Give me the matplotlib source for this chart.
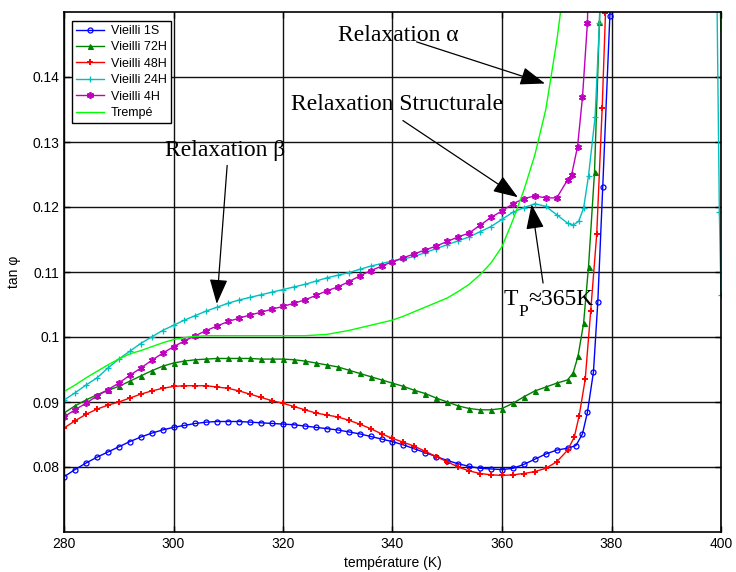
import matplotlib
matplotlib.use("Agg")
import matplotlib.pyplot as plt
import numpy as np

plt.rcParams['font.family'] = ['Liberation Sans', 'DejaVu Sans']

# ---------------- data ----------------
t_base = list(range(280, 373, 2))  # 280 ... 372 K

vieilli_1s_base = [0.0785, 0.0796, 0.0806, 0.0815, 0.0823, 0.0831, 0.0839, 0.0846, 0.0852, 0.0857,
                   0.0861, 0.0864, 0.0867, 0.0869, 0.0870, 0.0870, 0.0870, 0.0869, 0.0868, 0.0867,
                   0.0866, 0.0865, 0.0863, 0.0861, 0.0859, 0.0857, 0.0854, 0.0851, 0.0847, 0.0843,
                   0.0839, 0.0834, 0.0828, 0.0822, 0.0816, 0.0810, 0.0805, 0.0801, 0.0798, 0.0797,
                   0.0796, 0.0798, 0.0804, 0.0812, 0.0820, 0.0826, 0.0829]
vieilli_1s_tail_t = [373.5, 374.7, 375.6, 376.7, 377.5, 378.4, 379.7, 381.0]
vieilli_1s_tail = [0.0833, 0.0851, 0.0884, 0.0946, 0.1054, 0.1231, 0.1494, 0.1800]

vieilli_72h_base = [0.0883, 0.0894, 0.0903, 0.0911, 0.0918, 0.0924, 0.0932, 0.0940, 0.0948, 0.0955,
                    0.0960, 0.0963, 0.0965, 0.0966, 0.0967, 0.0967, 0.0967, 0.0967, 0.0966, 0.0966,
                    0.0966, 0.0965, 0.0963, 0.0960, 0.0957, 0.0954, 0.0949, 0.0944, 0.0939, 0.0934,
                    0.0929, 0.0924, 0.0918, 0.0913, 0.0906, 0.0900, 0.0894, 0.0890, 0.0888, 0.0888,
                    0.0890, 0.0898, 0.0908, 0.0917, 0.0923, 0.0929, 0.0934]
vieilli_72h_tail_t = [373.0, 373.9, 374.9, 375.8, 376.9, 377.8, 378.4]
vieilli_72h_tail = [0.0945, 0.0971, 0.1021, 0.1108, 0.1254, 0.1485, 0.1700]

vieilli_48h_base = [0.0860, 0.0871, 0.0881, 0.0889, 0.0895, 0.0900, 0.0906, 0.0912, 0.0917, 0.0921,
                    0.0924, 0.0925, 0.0925, 0.0925, 0.0923, 0.0921, 0.0917, 0.0912, 0.0907, 0.0902,
                    0.0898, 0.0893, 0.0888, 0.0883, 0.0880, 0.0877, 0.0872, 0.0866, 0.0859, 0.0851,
                    0.0844, 0.0838, 0.0832, 0.0824, 0.0816, 0.0808, 0.0800, 0.0794, 0.0790, 0.0788,
                    0.0787, 0.0788, 0.0790, 0.0793, 0.0798, 0.0808, 0.0826]
vieilli_48h_tail_t = [373.2, 374.1, 375.2, 376.2, 377.3, 378.3, 378.9, 379.6]
vieilli_48h_tail = [0.0846, 0.0879, 0.0935, 0.1040, 0.1158, 0.1353, 0.1498, 0.1700]

vieilli_24h_base = [0.0903, 0.0914, 0.0926, 0.0937, 0.0952, 0.0966, 0.0978, 0.0990, 0.1000, 0.1010,
                    0.1018, 0.1026, 0.1033, 0.1040, 0.1046, 0.1052, 0.1057, 0.1061, 0.1065, 0.1069,
                    0.1073, 0.1077, 0.1081, 0.1086, 0.1091, 0.1095, 0.1099, 0.1104, 0.1109, 0.1113,
                    0.1117, 0.1120, 0.1124, 0.1130, 0.1136, 0.1142, 0.1148, 0.1154, 0.1162, 0.1170,
                    0.1181, 0.1192, 0.1199, 0.1205, 0.1201, 0.1188, 0.1175]
vieilli_24h_tail_t = [373.0, 374.0, 374.9, 375.8, 377.0, 377.8, 378.5, 390.0, 399.0, 399.7, 400.0]
vieilli_24h_tail = [0.1172, 0.1178, 0.1198, 0.1248, 0.1338, 0.1483, 0.1700, 0.5000, 0.1720, 0.1193, 0.1065]

vieilli_4h_base = [0.0877, 0.0888, 0.0898, 0.0909, 0.0919, 0.0929, 0.0941, 0.0952, 0.0964, 0.0975,
                   0.0985, 0.0994, 0.1002, 0.1010, 0.1017, 0.1024, 0.1029, 0.1034, 0.1038, 0.1043,
                   0.1047, 0.1052, 0.1057, 0.1064, 0.1071, 0.1077, 0.1085, 0.1094, 0.1102, 0.1109,
                   0.1116, 0.1122, 0.1128, 0.1134, 0.1140, 0.1147, 0.1154, 0.1160, 0.1172, 0.1184,
                   0.1194, 0.1205, 0.1213, 0.1217, 0.1214, 0.1214, 0.1242]
vieilli_4h_tail_t = [372.7, 373.8, 374.7, 375.6, 376.2]
vieilli_4h_tail = [0.1249, 0.1293, 0.1369, 0.1483, 0.1700]

trempe_base = [0.0916, 0.0926, 0.0937, 0.0947, 0.0957, 0.0966, 0.0974, 0.0979, 0.0985, 0.0991,
               0.0996, 0.0999, 0.1001, 0.1002, 0.1002, 0.1002, 0.1002, 0.1002, 0.1002, 0.1002,
               0.1002, 0.1002, 0.1002, 0.1003, 0.1004, 0.1007, 0.1010, 0.1014, 0.1018, 0.1022,
               0.1026, 0.1032, 0.1039, 0.1046, 0.1053, 0.1060, 0.1070, 0.1081, 0.1096, 0.1114,
               0.1139, 0.1180, 0.1226, 0.1280, 0.1350, 0.1455]
trempe_tail_t = [371.0, 385.0, 400.0]
trempe_tail = [0.1520, 0.5000, 0.1470]

x_ticks = [280, 300, 320, 340, 360, 380, 400]
y_ticks = [0.08, 0.09, 0.10, 0.11, 0.12, 0.13, 0.14]
y_tick_labels = ['0.08', '0.09', '0.1', '0.11', '0.12', '0.13', '0.14']

# ---------------- figure ----------------
fig = plt.figure(figsize=(7.36, 5.72), dpi=100)
ax = fig.add_axes([64/736, 40/572, 657/736, 520/572])

series = [
    ("Vieilli 1S", t_base + vieilli_1s_tail_t, vieilli_1s_base + vieilli_1s_tail,
     dict(color='#0000FF', marker='o', ms=3.6, mfc='none', mew=0.9)),
    ("Vieilli 72H", t_base + vieilli_72h_tail_t, vieilli_72h_base + vieilli_72h_tail,
     dict(color='#008000', marker='^', ms=3.6, mew=0.8)),
    ("Vieilli 48H", t_base + vieilli_48h_tail_t, vieilli_48h_base + vieilli_48h_tail,
     dict(color='#FF0000', marker='+', ms=5, mew=1.4)),
    ("Vieilli 24H", t_base + vieilli_24h_tail_t, vieilli_24h_base + vieilli_24h_tail,
     dict(color='#00BFBF', marker='+', ms=5, mew=0.9)),
    ("Vieilli 4H", t_base + vieilli_4h_tail_t, vieilli_4h_base + vieilli_4h_tail,
     dict(color='#BF00BF', marker=(6, 2, 0), ms=5, mew=1.2)),
]
trempe_x = t_base[:len(trempe_base)] + trempe_tail_t
trempe_y = trempe_base + trempe_tail

for name, xs, ys, st in series:
    ax.plot(xs, ys, lw=1.0, label=name, **st)
ax.plot(trempe_x, trempe_y, color='#00FF00', lw=1.0, label='Trempé')

ax.set_xlim(280, 400)
ax.set_ylim(0.07, 0.15)
ax.set_xticks(x_ticks)
ax.set_yticks(y_ticks)
ax.set_yticklabels(y_tick_labels)
ax.grid(True, color='#111111', lw=1.0)
ax.tick_params(direction='in', top=True, right=True, labelsize=10, length=4, width=1)
for s in ax.spines.values():
    s.set_linewidth(1.2)
ax.set_xlabel('température (K)', fontsize=10, labelpad=4)
ax.set_ylabel('tan φ', fontsize=10, labelpad=8)

leg = ax.legend(loc='upper left', bbox_to_anchor=(0.0117, 0.9833), borderaxespad=0,
                fontsize=9, fancybox=False, framealpha=1, edgecolor='black',
                handlelength=2.2, handletextpad=0.6, labelspacing=0.35, borderpad=0.35)
leg.get_frame().set_linewidth(1.0)

serif = ['Liberation Serif', 'DejaVu Serif']
ax.text(341.0, 0.1464, 'Relaxation α', fontsize=17, family=serif, ha='center', va='center')
ax.text(340.8, 0.1357, 'Relaxation Structurale', fontsize=17, family=serif, ha='center', va='center')
ax.text(309.4, 0.1287, 'Relaxation β', fontsize=17, family=serif, ha='center', va='center')
tp_anchor = (360.3, 0.1057)
ax.annotate('T', xy=tp_anchor, xytext=(0, 0), textcoords='offset points',
            fontsize=17, family=serif, ha='left', va='center')
ax.annotate('P', xy=tp_anchor, xytext=(10.6, -9.0), textcoords='offset points',
            fontsize=12.5, family=serif, ha='left', va='center')
ax.annotate('≈365K', xy=tp_anchor, xytext=(17.6, 0), textcoords='offset points',
            fontsize=17, family=serif, ha='left', va='center')

arrows = [((344.4, 0.1454), (367.85, 0.1390)),
          ((341.9, 0.1333), (362.9, 0.1215)),
          ((309.8, 0.1264), (307.9, 0.1051)),
          ((367.5, 0.1083), (365.4, 0.1204))]
for tail, tip in arrows:
    ax.annotate('', xy=tip, xytext=tail,
                arrowprops=dict(arrowstyle='-|>,head_length=1.1,head_width=0.4',
                                color='black', lw=0.9, shrinkA=0, shrinkB=0,
                                mutation_scale=14))

fig.savefig('out.png', dpi=100)
